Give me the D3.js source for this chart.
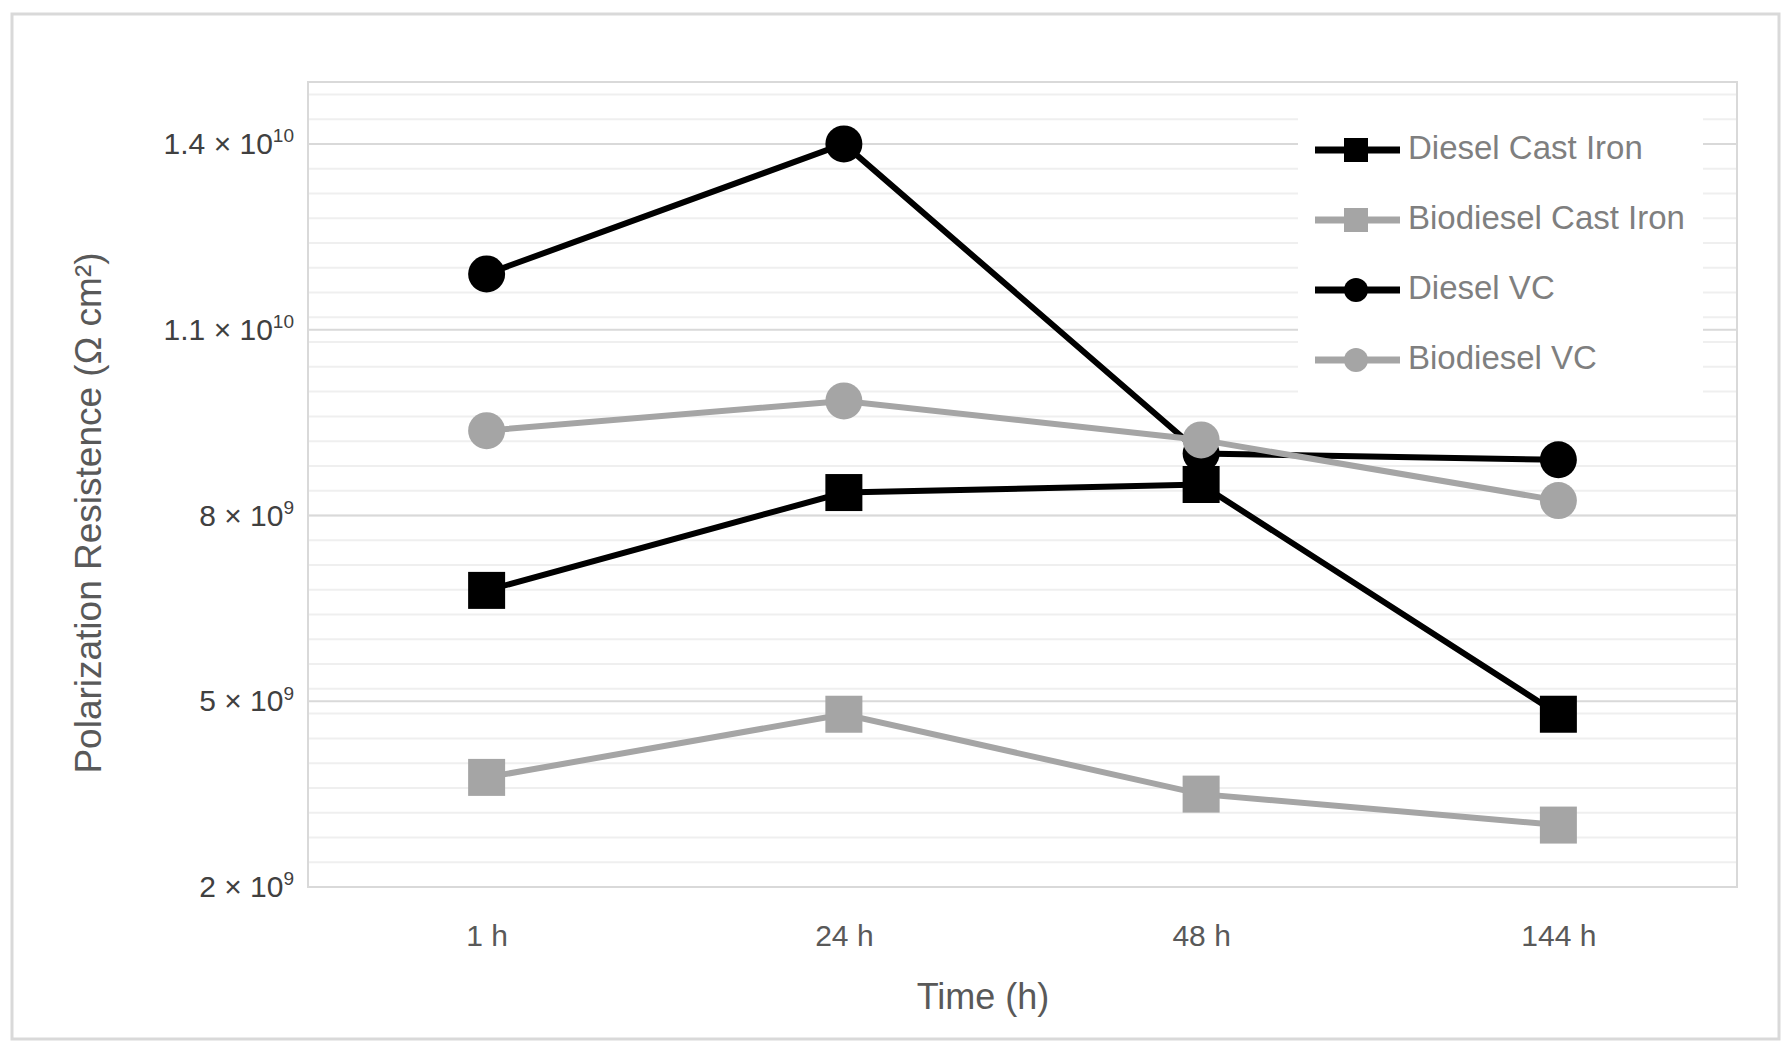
<!DOCTYPE html>
<html>
<head>
<meta charset="utf-8">
<script src="https://cdn.jsdelivr.net/npm/d3@7"></script>
<style>
  html, body { margin: 0; padding: 0; background: #fff; }
  svg text { font-family: 'Liberation Sans', Arial, sans-serif; }
</style>
</head>
<body>
<div id="chart"></div>
<script>
(function () {
  'use strict';

  // data
  var times = ['1 h', '24 h', '48 h', '144 h'];
  var seriesNames = ['Diesel Cast Iron', 'Biodiesel Cast Iron', 'Diesel VC', 'Biodiesel VC'];
  var dieselCastIron = [6.79e9, 8.37e9, 8.50e9, 4.79e9];
  var biodieselCastIron = [3.77e9, 4.79e9, 3.50e9, 3.00e9];
  var dieselVC = [11.9e9, 14.0e9, 9.0e9, 8.9e9];
  var biodieselVC = [9.37e9, 9.85e9, 9.22e9, 8.24e9];
  var yTicks = [2e9, 5e9, 8e9, 11e9, 14e9];
  var yDomain = [2e9, 15e9];
  var minorStep = 0.4e9;

  var width = 1789,
    height = 1054,
    plot = {left: 308, right: 1737, top: 82, bottom: 887},
    black = '#000000',
    gray = '#a5a5a5';

  var series = [
    {name: seriesNames[0], values: dieselCastIron, color: black, shape: 'square'},
    {name: seriesNames[1], values: biodieselCastIron, color: gray, shape: 'square'},
    {name: seriesNames[2], values: dieselVC, color: black, shape: 'circle'},
    {name: seriesNames[3], values: biodieselVC, color: gray, shape: 'circle'}
  ];

  var x = d3.scalePoint().domain(times).range([plot.left, plot.right]).padding(0.5);
  var y = d3.scaleLinear().domain(yDomain).range([plot.bottom, plot.top]);

  var svg = d3.select('#chart')
    .append('svg')
    .attr('width', width)
    .attr('height', height);

  // outer frame
  svg.append('rect')
    .attr('x', 12).attr('y', 14)
    .attr('width', 1767).attr('height', 1025)
    .attr('fill', '#fff')
    .attr('stroke', '#d9d9d9')
    .attr('stroke-width', 3);

  // minor gridlines
  svg.append('g')
    .selectAll('line')
    .data(d3.range(yDomain[0], yDomain[1], minorStep))
    .enter()
    .append('line')
    .attr('x1', plot.left).attr('x2', plot.right)
    .attr('y1', function (d) { return y(d); })
    .attr('y2', function (d) { return y(d); })
    .attr('stroke', '#efefef')
    .attr('stroke-width', 2);

  // major gridlines
  svg.append('g')
    .selectAll('line')
    .data(yTicks)
    .enter()
    .append('line')
    .attr('x1', plot.left).attr('x2', plot.right)
    .attr('y1', function (d) { return y(d); })
    .attr('y2', function (d) { return y(d); })
    .attr('stroke', '#d9d9d9')
    .attr('stroke-width', 2);

  // plot area border
  svg.append('rect')
    .attr('x', plot.left).attr('y', plot.top)
    .attr('width', plot.right - plot.left)
    .attr('height', plot.bottom - plot.top)
    .attr('fill', 'none')
    .attr('stroke', '#d9d9d9')
    .attr('stroke-width', 2);

  // y axis with superscript labels
  var yAxis = svg.append('g')
    .attr('transform', 'translate(' + plot.left + ',0)')
    .call(d3.axisLeft(y).tickValues(yTicks).tickSize(0).tickPadding(14));
  yAxis.select('.domain').remove();
  yAxis.selectAll('text').each(function (d) {
    var exp = Math.floor(Math.log10(d)),
      mant = d3.format('~g')(+(d / Math.pow(10, exp)).toFixed(1)),
      t = d3.select(this).text(null)
        .attr('font-size', 30)
        .attr('fill', '#404040');
    t.append('tspan').text(mant + ' \u00d7 10');
    t.append('tspan').text(exp)
      .attr('font-size', 19)
      .attr('dy', '-0.62em');
  });

  // x axis
  var xAxis = svg.append('g')
    .attr('transform', 'translate(0,' + plot.bottom + ')')
    .call(d3.axisBottom(x).tickSize(0).tickPadding(38));
  xAxis.select('.domain').remove();
  xAxis.selectAll('text')
    .attr('font-size', 30)
    .attr('fill', '#595959');

  // axis titles
  svg.append('text')
    .attr('x', 983).attr('y', 999)
    .attr('text-anchor', 'middle')
    .attr('dominant-baseline', 'middle')
    .attr('font-size', 36)
    .attr('fill', '#595959')
    .text('Time (h)');

  svg.append('text')
    .attr('transform', 'translate(91,513) rotate(-90)')
    .attr('text-anchor', 'middle')
    .attr('dominant-baseline', 'middle')
    .attr('font-size', 37)
    .attr('fill', '#595959')
    .text('Polarization Resistence (\u03a9 cm\u00b2)');

  // legend background
  svg.append('rect')
    .attr('x', 1298).attr('y', 105)
    .attr('width', 405).attr('height', 295)
    .attr('fill', '#fff');

  var line = d3.line()
    .x(function (d, i) { return x(times[i]); })
    .y(function (d) { return y(d); });

  function marker(sel, shape, size, color) {
    if (shape === 'square') {
      sel.append('rect')
        .attr('x', -size / 2).attr('y', -size / 2)
        .attr('width', size).attr('height', size)
        .attr('fill', color);
    } else {
      sel.append('circle')
        .attr('r', size / 2)
        .attr('fill', color);
    }
  }

  series.forEach(function (s) {
    var g = svg.append('g');
    g.append('path')
      .datum(s.values)
      .attr('d', line)
      .attr('fill', 'none')
      .attr('stroke', s.color)
      .attr('stroke-width', 6);
    g.selectAll('.pt')
      .data(s.values)
      .enter()
      .append('g')
      .attr('class', 'pt')
      .attr('transform', function (d, i) {
        return 'translate(' + [x(times[i]), y(d)] + ')';
      })
      .each(function () {
        marker(d3.select(this), s.shape, 37, s.color);
      });
  });

  // legend
  var legend = svg.append('g')
    .selectAll('g')
    .data(series)
    .enter()
    .append('g')
    .attr('transform', function (d, i) { return 'translate(1315,' + (150 + i * 70) + ')'; });

  legend.append('line')
    .attr('x1', 0).attr('x2', 85)
    .attr('stroke', function (d) { return d.color; })
    .attr('stroke-width', 7);
  legend.each(function (d) {
    var m = d3.select(this).append('g').attr('transform', 'translate(41,0)');
    marker(m, d.shape, 24, d.color);
  });
  legend.append('text')
    .attr('x', 93)
    .attr('dominant-baseline', 'middle')
    .attr('font-size', 33)
    .attr('fill', '#7f7f7f')
    .text(function (d) { return d.name; });
}());
</script>
</body>
</html>
